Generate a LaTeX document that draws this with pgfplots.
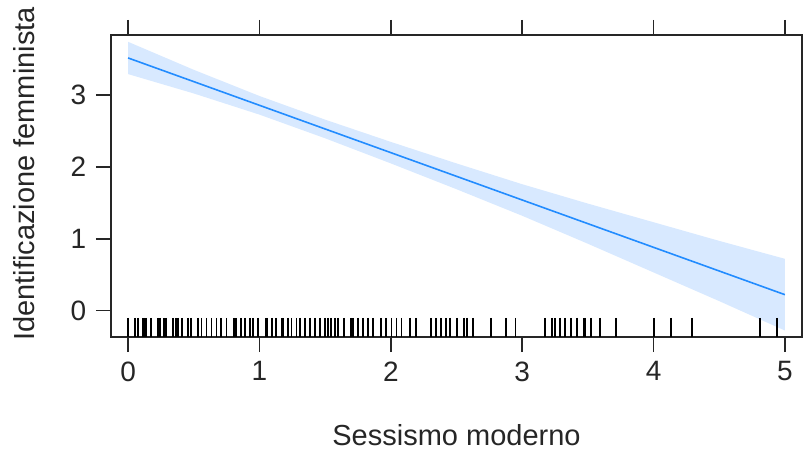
\documentclass[border=0pt]{standalone}
\usepackage{fontspec}
\setmainfont{Liberation Sans}
\usepackage{pgfplots}
\pgfplotsset{compat=1.18}

\definecolor{fitblue}{RGB}{34,140,255}
\definecolor{bandblue}{RGB}{216,233,255}

\begin{document}
\fontsize{14}{16}\selectfont
\begin{tikzpicture}
  \begin{axis}[
      name=main,
      scale only axis,
      width=345.5pt, height=151pt,
      xmin=-0.13, xmax=5.13,
      ymin=-0.37, ymax=3.84,
      xtick={0,1,2,3,4,5},
      ytick={0,1,2,3},
      tick align=outside,
      xtick pos=both,
      ytick pos=left,
      xticklabel pos=lower,
      major tick length=7.5pt,
      axis line style={line width=0.9pt, black!85},
      every tick/.style={line width=0.9pt, black!85},
      /pgf/number format/assume math mode=true,
      ticklabel style={font=\fontsize{14}{16}\selectfont, text=black!85},
      label style={font=\fontsize{14.5}{16}\selectfont, text=black!85},
      xlabel={Sessismo moderno},
      ylabel={Identificazione femminista},
      xlabel style={at={(axis description cs:0.5,0)}, anchor=center, yshift=-49pt},
      ylabel style={at={(axis description cs:-0.125,0.54)}, anchor=center},
      clip=false,
    ]
    % banda di confidenza: bordo superiore poi inferiore all'indietro
    \addplot[fill=bandblue, draw=none, forget plot] coordinates {
      (0,3.745) (0.5,3.355) (1,2.99) (1.5,2.66) (2,2.35) (2.5,2.05)
      (3,1.76) (3.5,1.49) (4,1.23) (4.5,0.97) (5,0.72)
      (5,-0.28) (4.5,0.13) (4,0.53) (3.5,0.93) (3,1.32) (2.5,1.69)
      (2,2.05) (1.5,2.40) (1,2.73) (0.5,3.025) (0,3.295)
    };
    % retta stimata
    \addplot[fitblue, line width=0.8pt] coordinates {
      (0,3.52) (1,2.86) (2,2.20) (3,1.54) (4,0.88) (5,0.22)
    };
    % rug
    \addplot[only marks, mark=|, mark size=4.75pt,
             mark options={line width=0.95pt, black}]
      table[y expr=-0.2375] {
      x
      0.000
      0.051
      0.078
      0.110
      0.120
      0.135
      0.173
      0.230
      0.240
      0.275
      0.287
      0.342
      0.368
      0.378
      0.409
      0.458
      0.482
      0.533
      0.559
      0.597
      0.635
      0.673
      0.704
      0.749
      0.806
      0.820
      0.858
      0.888
      0.926
      0.951
      0.989
      1.048
      1.060
      1.096
      1.129
      1.170
      1.180
      1.218
      1.244
      1.282
      1.307
      1.350
      1.383
      1.426
      1.461
      1.497
      1.522
      1.548
      1.573
      1.598
      1.642
      1.695
      1.710
      1.750
      1.788
      1.826
      1.865
      1.923
      1.961
      2.005
      2.043
      2.081
      2.144
      2.189
      2.306
      2.347
      2.385
      2.423
      2.448
      2.505
      2.555
      2.581
      2.626
      2.766
      2.880
      2.949
      3.171
      3.227
      3.253
      3.285
      3.323
      3.369
      3.417
      3.468
      3.478
      3.521
      3.595
      3.712
      4.001
      4.136
      4.293
      4.813
      4.939
    };
  \end{axis}
  \pgfresetboundingbox
  \path ([shift={(-55.5pt,-56.5pt)}]main.south west)
        rectangle ([shift={(0.5pt,17.5pt)}]main.north east);
\end{tikzpicture}
\end{document}
